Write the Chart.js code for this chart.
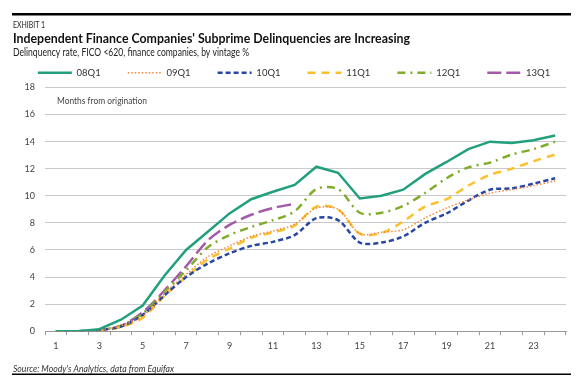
<!DOCTYPE html>
<html>
<head>
<meta charset="utf-8">
<script src="https://cdn.jsdelivr.net/npm/chart.js@4/dist/chart.umd.min.js"></script>
<style>
  html, body { margin: 0; padding: 0; background: #fff; }
  #wrap { width: 588px; height: 391px; position: relative; }
</style>
</head>
<body>
<div id="wrap"><canvas id="chart"></canvas></div>
<script>
// months from origination
const months = ['1','2','3','4','5','6','7','8','9','10','11','12','13','14','15','16','17','18','19','20','21','22','23','24'];

// delinquency rate by vintage, %
const v08Q1 = [0, 0, 0.15, 0.85, 1.9, 4.1, 6.0, 7.35, 8.7, 9.75, 10.3, 10.8, 12.15, 11.7, 9.8, 10.0, 10.45, 11.6, 12.5, 13.45, 14.0, 13.9, 14.1, 14.45];
const v09Q1 = [0, 0, 0.1, 0.4, 1.1, 2.8, 4.2, 5.5, 6.3, 7.0, 7.4, 7.9, 9.1, 9.0, 7.2, 7.3, 7.5, 8.35, 9.1, 9.7, 10.2, 10.45, 10.75, 11.1];
const v10Q1 = [0, 0, 0.1, 0.35, 1.2, 2.65, 4.0, 5.0, 5.75, 6.3, 6.6, 7.1, 8.35, 8.2, 6.55, 6.55, 7.0, 8.0, 8.7, 9.65, 10.45, 10.55, 10.9, 11.3];
const v11Q1 = [0, 0, 0.05, 0.3, 1.0, 2.6, 4.0, 5.3, 6.1, 6.9, 7.3, 7.8, 9.2, 9.0, 7.2, 7.25, 8.1, 9.2, 9.75, 10.75, 11.55, 12.0, 12.55, 13.05];
const v12Q1 = [0, 0, 0.1, 0.4, 1.3, 2.9, 4.5, 6.2, 7.1, 7.7, 8.2, 8.85, 10.5, 10.5, 8.75, 8.75, 9.25, 10.2, 11.3, 12.1, 12.45, 13.05, 13.45, 14.0];
const v13Q1 = [0, 0, 0.05, 0.4, 1.4, 3.0, 4.8, 6.7, 7.85, 8.6, 9.1, 9.4];

const yTicks = [0, 2, 4, 6, 8, 10, 12, 14, 16, 18];

const FONT = 'Lato, "Open Sans", sans-serif';

// text squeezed to the width it has in the original
function fitText(ctx, text, x, y, font, width) {
  ctx.font = font;
  const w = ctx.measureText(text).width;
  ctx.save();
  ctx.translate(x, y);
  ctx.scale(width / w, 1);
  ctx.fillText(text, 0, 0);
  ctx.restore();
}

// header, footer and in-plot note
const frame = {
  id: 'frame',
  afterDraw(chart) {
    const ctx = chart.ctx;
    ctx.save();
    ctx.fillStyle = '#000';
    ctx.fillRect(12, 13, 559, 2.5);
    ctx.fillRect(12, 373.5, 559, 1.5);

    ctx.textBaseline = 'middle';
    ctx.fillStyle = '#222';
    fitText(ctx, 'EXHIBIT 1', 13, 25, '8.5px ' + FONT, 32);

    ctx.fillStyle = '#111';
    fitText(ctx, "Independent Finance Companies' Subprime Delinquencies are Increasing", 13, 38.5, 'bold 14px ' + FONT, 397);

    ctx.fillStyle = '#222';
    fitText(ctx, 'Delinquency rate, FICO <620, finance companies, by vintage %', 13, 53, '10.5px ' + FONT, 236);

    ctx.fillStyle = '#333';
    fitText(ctx, "Source: Moody's Analytics, data from Equifax", 13, 369, 'italic 9px ' + FONT, 161);

    ctx.fillStyle = '#444';
    fitText(ctx, 'Months from origination', chart.chartArea.left + 12, chart.chartArea.top + 13, '9.5px ' + FONT, 90);
    ctx.restore();
  }
};

const ctx = document.getElementById('chart').getContext('2d');
new Chart(ctx, {
  type: 'line',
  data: {
    labels: months,
    datasets: [
      { label: '08Q1', data: v08Q1, borderColor: '#22a07d', borderWidth: 2.5, tension: 0 },
      { label: '09Q1', data: v09Q1, borderColor: '#f4873a', borderWidth: 1.5, borderDash: [1.5, 2], tension: 0.3 },
      { label: '10Q1', data: v10Q1, borderColor: '#2847a3', borderWidth: 2.5, borderDash: [5, 3], tension: 0.3 },
      { label: '11Q1', data: v11Q1, borderColor: '#fcc02c', borderWidth: 2.5, borderDash: [8, 6], tension: 0.3 },
      { label: '12Q1', data: v12Q1, borderColor: '#7fad2b', borderWidth: 2.5, borderDash: [8, 5, 2, 5], tension: 0.3 },
      { label: '13Q1', data: v13Q1, borderColor: '#a35aa9', borderWidth: 2.5, borderDash: [14, 5], tension: 0.3 }
    ]
  },
  options: {
    responsive: true,
    maintainAspectRatio: false,
    animation: false,
    layout: { padding: { top: 41, left: 0, right: 0, bottom: 35 } },
    elements: { point: { radius: 0 }, line: { fill: false } },
    plugins: {
      legend: {
        position: 'top',
        labels: {
          usePointStyle: true,
          pointStyle: 'line',
          pointStyleWidth: 34,
          padding: 27,
          color: '#333',
          font: { family: FONT, size: 9.5 },
          generateLabels: chart => chart.data.datasets.map((ds, i) => ({
            text: ds.label,
            datasetIndex: i,
            strokeStyle: ds.borderColor,
            fillStyle: ds.borderColor,
            fontColor: '#333',
            lineWidth: ds.borderWidth,
            lineDash: ds.borderDash || [],
            pointStyle: 'line',
            hidden: false
          }))
        }
      },
      tooltip: { enabled: false }
    },
    scales: {
      x: {
        offset: true,
        grid: { offset: true, drawOnChartArea: false, drawTicks: true, tickLength: 4, color: '#999' },
        border: { color: '#999' },
        ticks: {
          autoSkip: false,
          maxRotation: 0,
          padding: 5,
          color: '#444',
          font: { family: FONT, size: 9 },
          callback: (v, i) => (i % 2 === 0 ? months[i] : '')
        }
      },
      y: {
        min: yTicks[0],
        max: yTicks[yTicks.length - 1],
        afterBuildTicks: axis => { axis.ticks = yTicks.map(v => ({ value: v })); },
        afterFit: axis => { axis.width = 45; },
        grid: { color: '#c9c9c9', drawTicks: false },
        border: { display: false },
        ticks: { padding: 10, color: '#444', font: { family: FONT, size: 9 } }
      },
      // empty right-hand margin
      yRight: {
        position: 'right',
        afterFit: axis => { axis.width = 22; },
        grid: { drawOnChartArea: false, drawTicks: false },
        border: { display: false },
        ticks: { display: false }
      }
    }
  },
  plugins: [frame]
});
</script>
</body>
</html>
